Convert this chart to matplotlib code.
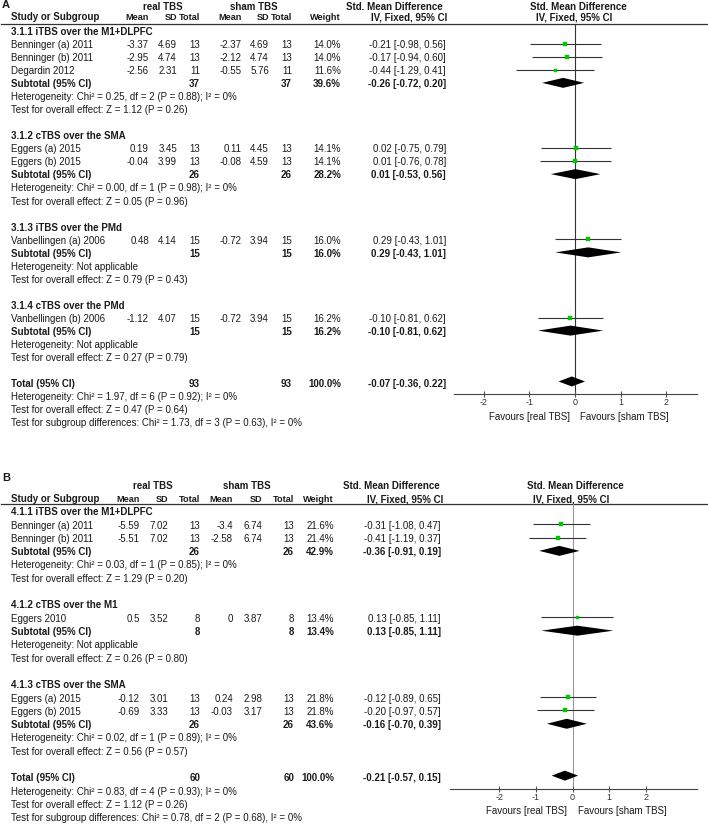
import matplotlib
matplotlib.use("Agg")
import matplotlib.pyplot as plt

plt.rcParams['font.family'] = ['Liberation Sans', 'DejaVu Sans']
plt.rcParams['axes.unicode_minus'] = False

# ---------------- panel A data ----------------
a_groups = ["3.1.1 iTBS over the M1+DLPFC", "3.1.2 cTBS over the SMA",
            "3.1.3 iTBS over the PMd", "3.1.4 cTBS over the PMd"]
a_studies = [["Benninger (a) 2011", "Benninger (b) 2011", "Degardin 2012"],
             ["Eggers (a) 2015", "Eggers (b) 2015"],
             ["Vanbellingen (a) 2006"],
             ["Vanbellingen (b) 2006"]]
a_mean_real = [[-3.37, -2.95, -2.56], [0.19, -0.04], [0.48], [-1.12]]
a_sd_real = [[4.69, 4.74, 2.31], [3.45, 3.99], [4.14], [4.07]]
a_n_real = [[13, 13, 11], [13, 13], [15], [15]]
a_mean_sham = [[-2.37, -2.12, -0.55], [0.11, -0.08], [-0.72], [-0.72]]
a_sd_sham = [[4.69, 4.74, 5.76], [4.45, 4.59], [3.94], [3.94]]
a_n_sham = [[13, 13, 11], [13, 13], [15], [15]]
a_weight = [[14.0, 14.0, 11.6], [14.1, 14.1], [16.0], [16.2]]
a_smd = [[-0.21, -0.17, -0.44], [0.02, 0.01], [0.29], [-0.10]]
a_lo = [[-0.98, -0.94, -1.29], [-0.75, -0.76], [-0.43], [-0.81]]
a_hi = [[0.56, 0.60, 0.41], [0.79, 0.78], [1.01], [0.62]]
a_sub_weight = [39.6, 28.2, 16.0, 16.2]
a_sub_smd = [-0.26, 0.01, 0.29, -0.10]
a_sub_lo = [-0.72, -0.53, -0.43, -0.81]
a_sub_hi = [0.20, 0.56, 1.01, 0.62]
a_het = ["Heterogeneity: Chi² = 0.25, df = 2 (P = 0.88); I² = 0%",
         "Heterogeneity: Chi² = 0.00, df = 1 (P = 0.98); I² = 0%",
         "Heterogeneity: Not applicable",
         "Heterogeneity: Not applicable"]
a_test = ["Test for overall effect: Z = 1.12 (P = 0.26)",
          "Test for overall effect: Z = 0.05 (P = 0.96)",
          "Test for overall effect: Z = 0.79 (P = 0.43)",
          "Test for overall effect: Z = 0.27 (P = 0.79)"]
a_total = [-0.07, -0.36, 0.22]
a_total_notes = ["Heterogeneity: Chi² = 1.97, df = 6 (P = 0.92); I² = 0%",
                 "Test for overall effect: Z = 0.47 (P = 0.64)",
                 "Test for subgroup differences: Chi² = 1.73, df = 3 (P = 0.63), I² = 0%"]

# ---------------- panel B data ----------------
b_groups = ["4.1.1 iTBS over the M1+DLPFC", "4.1.2 cTBS over the M1", "4.1.3 cTBS over the SMA"]
b_studies = [["Benninger (a) 2011", "Benninger (b) 2011"],
             ["Eggers 2010"],
             ["Eggers (a) 2015", "Eggers (b) 2015"]]
b_mean_real = [[-5.59, -5.51], [0.5], [-0.12, -0.69]]
b_sd_real = [[7.02, 7.02], [3.52], [3.01, 3.33]]
b_n_real = [[13, 13], [8], [13, 13]]
b_mean_sham = [[-3.4, -2.58], [0], [0.24, -0.03]]
b_sd_sham = [[6.74, 6.74], [3.87], [2.98, 3.17]]
b_n_sham = [[13, 13], [8], [13, 13]]
b_weight = [[21.6, 21.4], [13.4], [21.8, 21.8]]
b_smd = [[-0.31, -0.41], [0.13], [-0.12, -0.20]]
b_lo = [[-1.08, -1.19], [-0.85], [-0.89, -0.97]]
b_hi = [[0.47, 0.37], [1.11], [0.65, 0.57]]
b_sub_weight = [42.9, 13.4, 43.6]
b_sub_smd = [-0.36, 0.13, -0.16]
b_sub_lo = [-0.91, -0.85, -0.70]
b_sub_hi = [0.19, 1.11, 0.39]
b_het = ["Heterogeneity: Chi² = 0.03, df = 1 (P = 0.85); I² = 0%",
         "Heterogeneity: Not applicable",
         "Heterogeneity: Chi² = 0.02, df = 1 (P = 0.89); I² = 0%"]
b_test = ["Test for overall effect: Z = 1.29 (P = 0.20)",
          "Test for overall effect: Z = 0.26 (P = 0.80)",
          "Test for overall effect: Z = 0.56 (P = 0.57)"]
b_total = [-0.21, -0.57, 0.15]
b_total_notes = ["Heterogeneity: Chi² = 0.83, df = 4 (P = 0.93); I² = 0%",
                 "Test for overall effect: Z = 1.12 (P = 0.26)",
                 "Test for subgroup differences: Chi² = 0.78, df = 2 (P = 0.68), I² = 0%"]

ticks = [-2, -1, 0, 1, 2]

W, H = 708, 825
TXT = '#1a1a1a'
FS = 7
GREEN = '#00c800'

fig = plt.figure(figsize=(W / 100, H / 100), dpi=100)
tx = fig.add_axes([0, 0, 1, 1])
tx.set_xlim(0, W)
tx.set_ylim(H, 0)
tx.axis('off')


def put(x, y, s, ha='left', bold=False, size=FS):
    tx.text(x, y, s, ha=ha, va='center', fontsize=size, color=TXT,
            fontweight='bold' if bold else 'normal')


def num(v):
    return '{:g}'.format(v)


def ci(e, lo, hi):
    return '{:.2f} [{:.2f}, {:.2f}]'.format(e, lo, hi)


def draw_panel(label, lay, groups, studies, mr, sr, nr, ms, ss, ns, w, smd, lo, hi,
               sw, ssmd, slo, shi, het, test, total, notes, zcolor):
    y0, dy = lay['y0'], lay['dy']
    ry = lambda r: y0 + dy * r
    cols, effx = lay['cols'], lay['effx']

    # headers
    put(2, lay['lab_y'], label, bold=True, size=8)
    put(lay['real_c'], lay['h1'], 'real TBS', ha='center', bold=True)
    put(lay['sham_c'], lay['h1'], 'sham TBS', ha='center', bold=True)
    put(lay['smd_c'], lay['h1'], 'Std. Mean Difference', ha='center', bold=True)
    put(lay['zero_px'] + 3, lay['h1'], 'Std. Mean Difference', ha='center', bold=True)
    put(11, lay['h2'], 'Study or Subgroup', bold=True)
    for x, s in zip(cols, ['Mean', 'SD', 'Total', 'Mean', 'SD', 'Total', 'Weight']):
        put(x, lay['h2'], s, ha='right', bold=True, size=6.6)
    put(lay['iv_c'], lay['h2'], 'IV, Fixed, 95% CI', ha='center', bold=True)
    put(lay['zero_px'] - 1, lay['h2'], 'IV, Fixed, 95% CI', ha='center', bold=True)
    tx.plot([1, 707], [lay['line_y']] * 2, color='#333333', lw=0.9)

    # forest axes
    top, bot = lay['line_y'], lay['axis_y']
    ax = fig.add_axes([lay['ax_l'] / W, 1 - bot / H, (lay['ax_r'] - lay['ax_l']) / W, (bot - top) / H])
    ax.set_xlim(lay['xlim'])
    ax.set_ylim((bot - y0) / dy, (top - y0) / dy)
    ax.patch.set_alpha(0)
    for sp in ['top', 'left', 'right']:
        ax.spines[sp].set_visible(False)
    ax.spines['bottom'].set_color('#444444')
    ax.spines['bottom'].set_linewidth(0.8)
    ax.set_yticks([])
    ax.set_xticks(ticks)
    ax.tick_params(axis='x', direction='inout', length=4, width=0.8, color='#555555',
                   labelsize=6.5, labelcolor='#333333', pad=1)
    ax.axvline(0, color=zcolor, lw=0.8, zorder=1)

    wmax = max(max(g) for g in w)
    half = 5.0 / dy

    def diamond(r, e, l, h):
        ax.fill([l, e, h, e], [r, r - half, r, r + half], color='black', lw=0, zorder=3)

    r = 0
    for g in range(len(groups)):
        put(11, ry(r), groups[g], bold=True)
        r += 1
        for i, name in enumerate(studies[g]):
            y = ry(r)
            put(11, y, name)
            vals = [num(mr[g][i]), num(sr[g][i]), str(nr[g][i]), num(ms[g][i]),
                    num(ss[g][i]), str(ns[g][i]), '{:.1f}%'.format(w[g][i])]
            for x, v in zip(cols, vals):
                put(x, y, v, ha='right')
            put(effx, y, ci(smd[g][i], lo[g][i], hi[g][i]), ha='right')
            ax.hlines(r - 0.1, lo[g][i], hi[g][i], color='#333333', lw=0.8, zorder=2)
            side = max(3.0, 4.3 * (w[g][i] / wmax) ** 1.5)
            ax.plot(smd[g][i], r - 0.1, 's', ms=side * 0.72, color=GREEN, mec=GREEN, mew=0.3, zorder=4)
            r += 1
        y = ry(r)
        put(11, y, 'Subtotal (95% CI)', bold=True)
        put(cols[2], y, str(sum(nr[g])), ha='right', bold=True)
        put(cols[5], y, str(sum(ns[g])), ha='right', bold=True)
        put(cols[6], y, '{:.1f}%'.format(sw[g]), ha='right', bold=True)
        put(effx, y, ci(ssmd[g], slo[g], shi[g]), ha='right', bold=True)
        diamond(r - 0.1, ssmd[g], slo[g], shi[g])
        r += 1
        put(11, ry(r), het[g])
        r += 1
        put(11, ry(r), test[g])
        r += 2

    y = ry(r)
    put(11, y, 'Total (95% CI)', bold=True)
    put(cols[2], y, str(sum(sum(g) for g in nr)), ha='right', bold=True)
    put(cols[5], y, str(sum(sum(g) for g in ns)), ha='right', bold=True)
    put(cols[6], y, '100.0%', ha='right', bold=True)
    put(effx, y, ci(*total), ha='right', bold=True)
    diamond(r - 0.2, *total)
    for k, s in enumerate(notes):
        put(11, ry(r + 1 + k), s)

    put(lay['zero_px'] - 5, lay['fav_y'], 'Favours [real TBS]', ha='right')
    put(lay['zero_px'] + 5, lay['fav_y'], 'Favours [sham TBS]', ha='left')


lay_a = dict(y0=32.0, dy=13.04, lab_y=5, h1=7, h2=17.5, line_y=23.5,
             cols=[149, 177, 200, 242, 269, 292, 341], effx=446,
             real_c=163, sham_c=254, smd_c=394, iv_c=409,
             ax_l=454, ax_r=697, axis_y=394, xlim=(-2.653, 2.675), zero_px=575,
             fav_y=417)
lay_b = dict(y0=512.3, dy=13.3, lab_y=478, h1=486, h2=499.3, line_y=504,
             cols=[140, 168, 200, 233, 262, 294, 334], effx=441,
             real_c=152.5, sham_c=247, smd_c=391, iv_c=405,
             ax_l=450, ax_r=697, axis_y=789.3, xlim=(-3.34, 3.39), zero_px=572.5,
             fav_y=811)

draw_panel('A', lay_a, a_groups, a_studies, a_mean_real, a_sd_real, a_n_real,
           a_mean_sham, a_sd_sham, a_n_sham, a_weight, a_smd, a_lo, a_hi,
           a_sub_weight, a_sub_smd, a_sub_lo, a_sub_hi, a_het, a_test,
           a_total, a_total_notes, '#333333')
draw_panel('B', lay_b, b_groups, b_studies, b_mean_real, b_sd_real, b_n_real,
           b_mean_sham, b_sd_sham, b_n_sham, b_weight, b_smd, b_lo, b_hi,
           b_sub_weight, b_sub_smd, b_sub_lo, b_sub_hi, b_het, b_test,
           b_total, b_total_notes, '#999999')

fig.savefig('out.png', dpi=100)
